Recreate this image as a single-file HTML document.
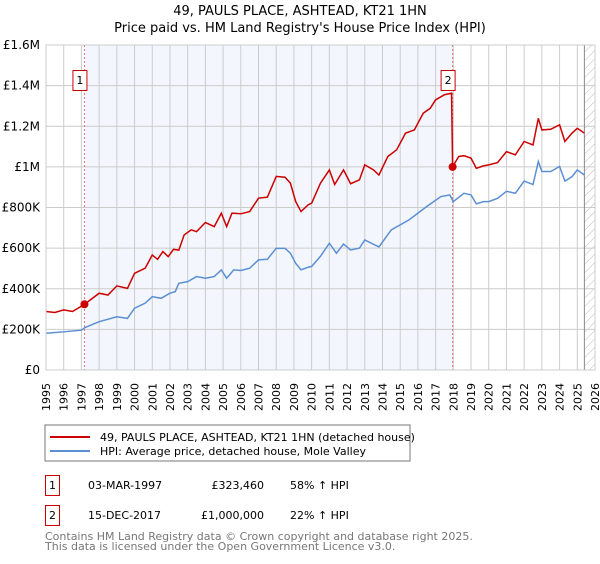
<!DOCTYPE html>
<html><head><meta charset="utf-8"><style>
body{margin:0;background:#fff;width:600px;height:560px;overflow:hidden;font-family:"DejaVu Sans","Liberation Sans",sans-serif}
</style></head><body>
<svg id="c" width="600" height="560" xmlns="http://www.w3.org/2000/svg" font-family="DejaVu Sans, Liberation Sans, sans-serif">
<defs><pattern id="hatch" width="6" height="6" patternUnits="userSpaceOnUse" patternTransform="rotate(45)"><line x1="0" y1="0" x2="0" y2="6" stroke="#bbb" stroke-width="1"/></pattern></defs>
<text x="300" y="15" text-anchor="middle" font-size="13" fill="#000">49, PAULS PLACE, ASHTEAD, KT21 1HN</text>
<text x="300" y="32" text-anchor="middle" font-size="13" fill="#000">Price paid vs. HM Land Registry's House Price Index (HPI)</text>
<g id="plot"></g>
<rect x="45" y="425" width="365" height="36" fill="#fff" stroke="#777"/>
<line x1="50" y1="437" x2="90" y2="437" stroke="#cc0000" stroke-width="2"/>
<text x="100" y="441" font-size="11">49, PAULS PLACE, ASHTEAD, KT21 1HN (detached house)</text>
<line x1="50" y1="451" x2="90" y2="451" stroke="#5b8fd4" stroke-width="2"/>
<text x="100" y="455" font-size="11">HPI: Average price, detached house, Mole Valley</text>
<g font-size="11" fill="#000">
<rect x="45.5" y="475.5" width="14" height="20" fill="none" stroke="#cc0000"/>
<text x="52.5" y="489" text-anchor="middle">1</text>
<text x="88" y="489">03-MAR-1997</text>
<text x="264" y="489" text-anchor="end">£323,460</text>
<text x="290" y="489">58% ↑ HPI</text>
<rect x="45.5" y="505.5" width="14" height="20" fill="none" stroke="#cc0000"/>
<text x="52.5" y="519" text-anchor="middle">2</text>
<text x="88" y="519">15-DEC-2017</text>
<text x="264" y="519" text-anchor="end">£1,000,000</text>
<text x="290" y="519">22% ↑ HPI</text>
</g>
<text x="45" y="540" font-size="11" fill="#777">Contains HM Land Registry data © Crown copyright and database right 2025.</text>
<text x="45" y="550" font-size="11" fill="#777">This data is licensed under the Open Government Licence v3.0.</text>
</svg>
<script>
const yTickValues=[0,200000,400000,600000,800000,1000000,1200000,1400000,1600000];
const yTickLabels=["£0","£200K","£400K","£600K","£800K","£1M","£1.2M","£1.4M","£1.6M"];
const xTickYears=[1995,1996,1997,1998,1999,2000,2001,2002,2003,2004,2005,2006,2007,2008,2009,2010,2011,2012,2013,2014,2015,2016,2017,2018,2019,2020,2021,2022,2023,2024,2025,2026];
const hpiYears=[1995,1996,1997,1997.2,1998,1999,1999.6,2000,2000.6,2001,2001.5,2002,2002.3,2002.5,2003,2003.5,2004,2004.5,2004.9,2005.2,2005.6,2006,2006.5,2007,2007.5,2008,2008.5,2008.8,2009.1,2009.4,2009.8,2010,2010.5,2011,2011.4,2011.8,2012.2,2012.7,2013,2013.8,2014.5,2015.5,2016.5,2017.3,2017.8,2018,2018.6,2019,2019.3,2019.7,2020,2020.5,2021,2021.5,2022,2022.5,2022.8,2023,2023.5,2024,2024.3,2024.7,2025,2025.4];
const hpiValues=[181,188,196,209,238,262,254,304,329,361,353,378,386,427,435,460,452,460,493,452,493,490,501,542,545,599,599,575,525,493,506,510,560,624,575,620,591,600,640,606,690,739,805,854,862,829,870,862,818,829,829,845,880,870,930,913,1026,977,977,1002,930,952,985,960];
const priceYears=[1995,1995.5,1996,1996.5,1997.17,1998,1998.5,1999,1999.6,2000,2000.6,2001,2001.3,2001.6,2001.9,2002.2,2002.5,2002.8,2003.2,2003.5,2004,2004.5,2004.9,2005.2,2005.5,2006,2006.5,2007,2007.5,2008,2008.5,2008.8,2009.1,2009.4,2009.8,2010,2010.5,2011,2011.3,2011.8,2012.2,2012.7,2013,2013.5,2013.8,2014.3,2014.8,2015.3,2015.8,2016.3,2016.7,2017,2017.5,2017.9,2017.96,2018.3,2018.6,2019,2019.3,2019.7,2020,2020.5,2021,2021.5,2022,2022.5,2022.8,2023,2023.5,2024,2024.3,2024.7,2025,2025.4];
const priceValues=[288,283,296,288,323,378,369,414,402,476,501,566,545,583,558,594,590,665,690,681,726,706,772,706,772,769,780,846,851,953,949,920,829,780,813,821,920,985,913,985,917,936,1010,985,960,1051,1084,1166,1182,1264,1289,1330,1355,1363,1000,1051,1055,1043,993,1005,1010,1021,1075,1059,1125,1108,1239,1182,1185,1207,1125,1166,1190,1166];
const saleYears=[1997.17,2017.96];
const saleValues=[323460,1000000];
const saleLabels=["1","2"];

const X0=46,X1=595,Y0=370,Y1=45;
const xs=y=>X0+(y-1995)/(2026-1995)*(X1-X0);
const ys=v=>Y0-v/1600000*(Y0-Y1);
const NS="http://www.w3.org/2000/svg";
const g=document.getElementById('plot');
function mk(t,a){const e=document.createElementNS(NS,t);for(const k in a)e.setAttribute(k,a[k]);g.appendChild(e);return e;}
let e;
e=mk('rect',{x:xs(saleYears[0]),y:Y1,width:xs(saleYears[1])-xs(saleYears[0]),height:Y0-Y1,fill:'#f3f6fd'});


e=mk('rect',{x:xs(2025.4),y:Y1,width:X1-xs(2025.4),height:Y0-Y1,fill:'url(#hatch)'});


xTickYears.forEach(yr=>{
 e=mk('line',{x1:xs(yr),x2:xs(yr),y1:Y1,y2:Y0,stroke:'#ccc','stroke-width':1});
 
 
 e=mk('text',{x:0,y:0,'font-size':11,'text-anchor':'end',transform:`translate(${xs(yr)+4},${Y0+13}) rotate(-90)`});
 e.textContent=yr;
 
 
});
yTickValues.forEach((v,i)=>{
 e=mk('line',{x1:X0,x2:X1,y1:ys(v),y2:ys(v),stroke:'#ccc','stroke-width':1});
 
 
 e=mk('text',{x:X0-6,y:ys(v)+4,'font-size':12,'text-anchor':'end'});
 e.textContent=yTickLabels[i];
 
 
});
e=mk('line',{x1:xs(2025.4),x2:xs(2025.4),y1:Y1,y2:Y0,stroke:'#888','stroke-width':1});


saleYears.forEach((yr,i)=>{
 e=mk('line',{x1:xs(yr),x2:xs(yr),y1:Y1,y2:Y0,stroke:'#e07070','stroke-width':1,'stroke-dasharray':'2,2'});
 
 
});
e=mk('polyline',{points:hpiYears.map((y,i)=>xs(y)+','+ys(hpiValues[i]*1000)).join(' '),fill:'none',stroke:'#5b8fd4','stroke-width':1.5});


e=mk('polyline',{points:priceYears.map((y,i)=>xs(y)+','+ys(priceValues[i]*1000)).join(' '),fill:'none',stroke:'#cc0000','stroke-width':1.5});


saleYears.forEach((yr,i)=>{
 e=mk('circle',{cx:xs(yr),cy:ys(saleValues[i]),r:4,fill:'#cc0000'});
 
 
 e=mk('rect',{x:xs(yr)-11.5,y:70.5,width:14,height:20,fill:'#fff',stroke:'#cc0000'});
 
 
 e=mk('text',{x:xs(yr)-4.5,y:84,'font-size':11,'text-anchor':'middle'});
 e.textContent=saleLabels[i];
 
 
});
e=mk('rect',{x:X0,y:Y1,width:X1-X0,height:Y0-Y1,fill:'none',stroke:'#ccc'});


</script>
</body></html>
